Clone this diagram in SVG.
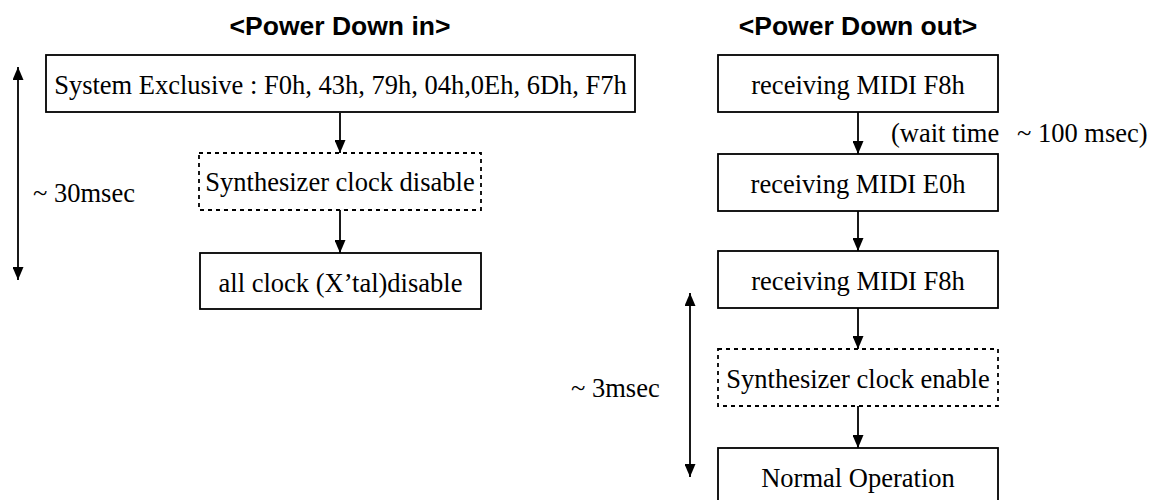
<svg xmlns="http://www.w3.org/2000/svg" width="1149" height="500" viewBox="0 0 1149 500">
<style>
.box{fill:#fff;stroke:#000;stroke-width:1.8}
.dash{fill:#fff;stroke:#000;stroke-width:1.8;stroke-dasharray:4 4}
.t{font-family:"Liberation Serif","Times New Roman",serif;font-size:26.5px;fill:#000}
.c{text-anchor:middle}
.title{font-family:"Liberation Sans",Arial,sans-serif;font-size:26.5px;font-weight:bold;fill:#000;text-anchor:middle}
.ln{stroke:#000;stroke-width:1.8;fill:none}
</style>
<defs>
<marker id="ah" markerUnits="userSpaceOnUse" markerWidth="14" markerHeight="11" refX="13" refY="5.5" orient="auto">
<path d="M0,0 L13,5.5 L0,11 Z" fill="#000"/>
</marker>
<marker id="ahs" markerUnits="userSpaceOnUse" markerWidth="14" markerHeight="11" refX="1" refY="5.5" orient="auto">
<path d="M14,0 L1,5.5 L14,11 Z" fill="#000"/>
</marker>
</defs>
<text class="title" x="340" y="35">&lt;Power Down in&gt;</text>
<text class="title" x="858" y="35">&lt;Power Down out&gt;</text>
<g id="connectors">
<line class="ln" x1="340" y1="113" x2="340" y2="153" marker-end="url(#ah)"/>
<line class="ln" x1="340" y1="210" x2="340" y2="253" marker-end="url(#ah)"/>
<line class="ln" x1="858" y1="112" x2="858" y2="154" marker-end="url(#ah)"/>
<line class="ln" x1="858" y1="211" x2="858" y2="251" marker-end="url(#ah)"/>
<line class="ln" x1="858" y1="308" x2="858" y2="349" marker-end="url(#ah)"/>
<line class="ln" x1="858" y1="406" x2="858" y2="448" marker-end="url(#ah)"/>
<line class="ln" x1="18" y1="67" x2="18" y2="280" marker-start="url(#ahs)" marker-end="url(#ah)"/>
<line class="ln" x1="690" y1="293" x2="690" y2="477" marker-start="url(#ahs)" marker-end="url(#ah)"/>
</g>
<g id="n-sysex">
<rect class="box" x="46" y="55" width="589" height="57"/>
<text class="t c" x="340.5" y="94">System Exclusive : F0h, 43h, 79h, 04h,0Eh, 6Dh, F7h</text>
</g>
<g id="n-synth-disable">
<rect class="dash" x="199" y="153" width="282" height="57"/>
<text class="t c" x="340" y="191">Synthesizer clock disable</text>
</g>
<g id="n-all-clock">
<rect class="box" x="200" y="253" width="281" height="56"/>
<text class="t c" x="340.5" y="292">all clock (X’tal)disable</text>
</g>
<g id="n-f8-1">
<rect class="box" x="718" y="55" width="280" height="57"/>
<text class="t c" x="858" y="94">receiving MIDI F8h</text>
</g>
<g id="n-e0">
<rect class="box" x="718" y="154" width="280" height="57"/>
<text class="t c" x="858" y="193">receiving MIDI E0h</text>
</g>
<g id="n-f8-2">
<rect class="box" x="718" y="251" width="280" height="57"/>
<text class="t c" x="858" y="290">receiving MIDI F8h</text>
</g>
<g id="n-synth-enable">
<rect class="dash" x="718" y="349" width="280" height="57"/>
<text class="t c" x="858" y="388">Synthesizer clock enable</text>
</g>
<g id="n-normal">
<rect class="box" x="718" y="448" width="280" height="60"/>
<text class="t c" x="858" y="487">Normal Operation</text>
</g>
<text class="t" x="891" y="142">(wait time<tspan x="1017">~ 100 msec)</tspan></text>
<text class="t" x="33" y="202">~ 30msec</text>
<text class="t" x="571" y="397">~ 3msec</text>
</svg>
